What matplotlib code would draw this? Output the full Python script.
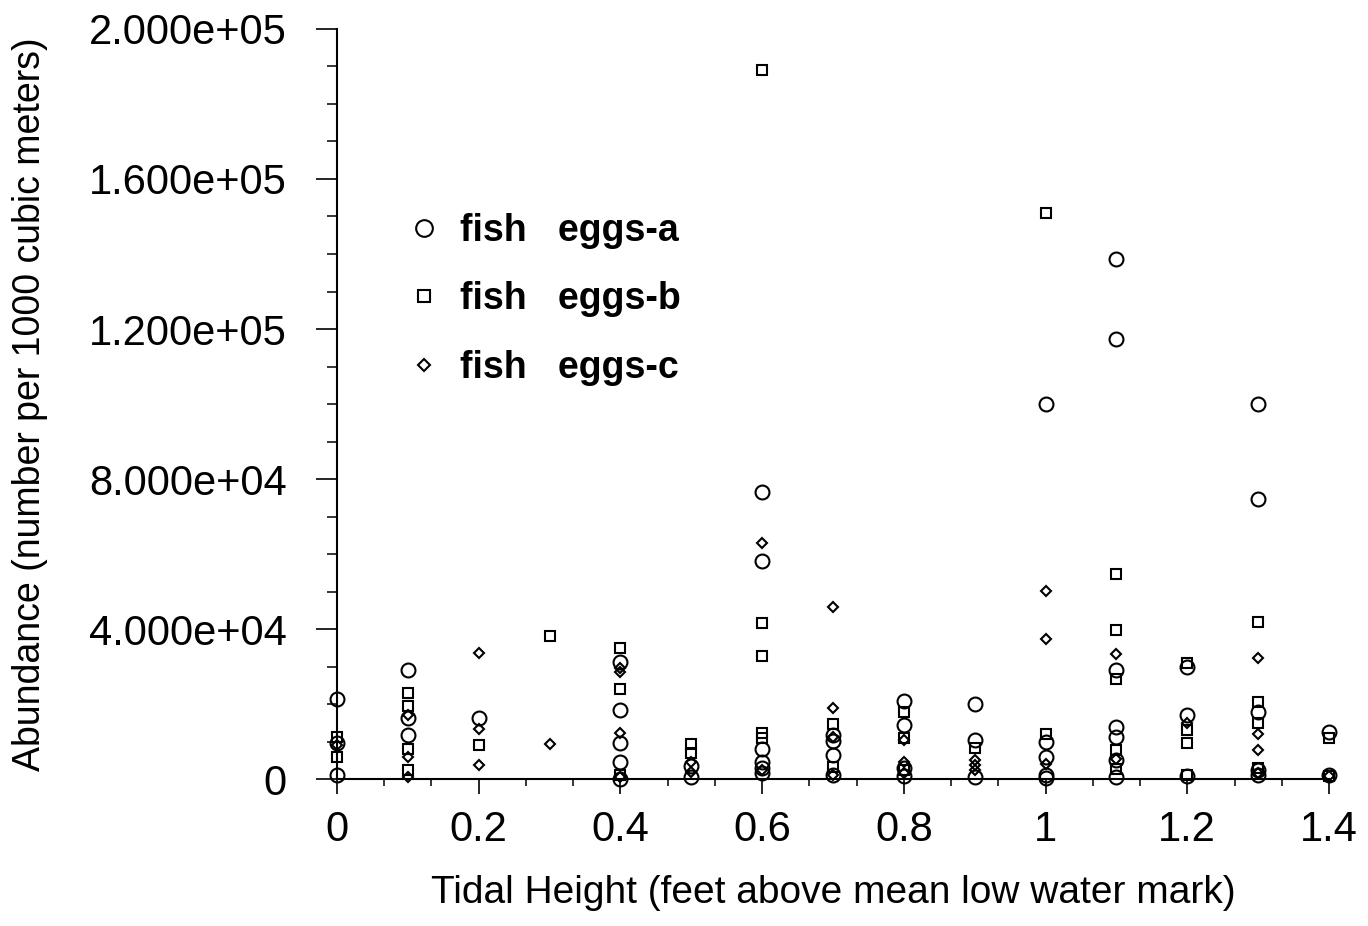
import numpy as np
import matplotlib
matplotlib.use('Agg')
import matplotlib.pyplot as plt
from matplotlib.ticker import FuncFormatter, MultipleLocator

plt.rcParams['font.family'] = ['Liberation Sans', 'DejaVu Sans']

# tidal heights and abundances
eggs_a_x = [0, 0, 0,
            0.1, 0.1, 0.1,
            0.2,
            0.4, 0.4, 0.4, 0.4, 0.4,
            0.5, 0.5,
            0.6, 0.6, 0.6, 0.6, 0.6, 0.6,
            0.7, 0.7, 0.7, 0.7,
            0.8, 0.8, 0.8, 0.8,
            0.9, 0.9, 0.9,
            1.0, 1.0, 1.0, 1.0, 1.0,
            1.1, 1.1, 1.1, 1.1, 1.1, 1.1, 1.1,
            1.2, 1.2, 1.2,
            1.3, 1.3, 1.3, 1.3, 1.3,
            1.4, 1.4]
eggs_a_y = [21300, 9600, 1000,
            29000, 16300, 11700,
            16300,
            31200, 18400, 9600, 4500, 0,
            3500, 500,
            76500, 58100, 8000, 4500, 2900, 1500,
            11700, 10100, 6400, 1000,
            20800, 14400, 3000, 800,
            20000, 10400, 500,
            100000, 9900, 5900, 1000, 300,
            138700, 117300, 29100, 13900, 11200, 5000, 500,
            29900, 17100, 800,
            100000, 74700, 17900, 2400, 1000,
            12500, 1000]

eggs_b_x = [0, 0,
            0.1, 0.1, 0.1, 0.1,
            0.2,
            0.3,
            0.4, 0.4, 0.4,
            0.5, 0.5,
            0.6, 0.6, 0.6, 0.6, 0.6,
            0.7, 0.7,
            0.8, 0.8, 0.8,
            0.9,
            1.0, 1.0,
            1.1, 1.1, 1.1, 1.1, 1.1,
            1.2, 1.2, 1.2, 1.2,
            1.3, 1.3, 1.3, 1.3,
            1.4, 1.4]
eggs_b_y = [11200, 5900,
            22900, 19500, 8000, 2400,
            9100,
            38100,
            34900, 24000, 1000,
            9300, 7000,
            189000, 41600, 32800, 12300, 11000,
            14700, 3200,
            17900, 10900, 2500,
            8300,
            150900, 12000,
            54700, 39700, 26700, 7700, 2700,
            31000, 13000, 9600, 1000,
            41900, 20500, 14900, 2900,
            10900, 800]

eggs_c_x = [0,
            0.1, 0.1, 0.1,
            0.2, 0.2, 0.2,
            0.3,
            0.4, 0.4, 0.4, 0.4,
            0.5, 0.5,
            0.6, 0.6,
            0.7, 0.7, 0.7, 0.7,
            0.8, 0.8, 0.8,
            0.9, 0.9, 0.9,
            1.0, 1.0, 1.0,
            1.1, 1.1,
            1.2,
            1.3, 1.3, 1.3, 1.3,
            1.4]
eggs_c_y = [9000,
            17000, 5900, 500,
            33600, 13300, 3700,
            9300,
            29500, 28500, 12300, 500,
            4500, 2000,
            62900, 2400,
            45900, 18900, 11200, 1000,
            10500, 4500, 1500,
            5000, 3700, 2400,
            50100, 37300, 4000,
            33300, 5300,
            14900,
            32300, 12000, 7700, 1500,
            800]

fig = plt.figure(figsize=(13.68, 9.26), dpi=100)
ax = fig.add_axes([0.2463, 0.1587, 0.7252, 0.81])

kw = dict(linestyle='none', markerfacecolor='none', markeredgecolor='black',
          markeredgewidth=1.5, clip_on=False)
ax.plot(eggs_a_x, eggs_a_y, marker='o', markersize=10, label='fish   eggs-a', **kw)
ax.plot(eggs_b_x, eggs_b_y, marker='s', markersize=7, label='fish   eggs-b', **kw)
ax.plot(eggs_c_x, eggs_c_y, marker='D', markersize=5, label='fish   eggs-c', **kw)

ax.set_xlim(0, 1.4)
ax.set_ylim(0, 200000)
ax.spines['top'].set_visible(False)
ax.spines['right'].set_visible(False)
ax.spines['left'].set_linewidth(1.5)
ax.spines['bottom'].set_linewidth(1.5)

ax.xaxis.set_major_locator(MultipleLocator(0.2))
ax.xaxis.set_minor_locator(MultipleLocator(0.2 / 3))
ax.yaxis.set_major_locator(MultipleLocator(40000))
ax.yaxis.set_minor_locator(MultipleLocator(10000))
ax.xaxis.set_major_formatter(FuncFormatter(lambda v, p: '%g' % round(v, 2)))
ax.yaxis.set_major_formatter(FuncFormatter(lambda v, p: '0' if v == 0 else '%.3e' % v))
ax.tick_params(axis='y', which='major', length=15, width=1.2, labelsize=30, pad=21)
ax.tick_params(axis='y', which='minor', length=7, width=1.1)
ax.tick_params(axis='x', which='major', length=11, width=1.2, labelsize=30, pad=11)
ax.tick_params(axis='x', which='minor', length=5, width=1.1)

ax.set_xlabel('Tidal Height (feet above mean low water mark)', fontsize=28, va='top')
ax.set_ylabel('Abundance (number per 1000 cubic meters)', fontsize=27)
ax.xaxis.set_label_coords(0.5, -0.128)
ax.yaxis.set_label_coords(-0.291, 0.5)

ax.legend(loc='upper left', bbox_to_anchor=(0.035, 0.80), frameon=False,
          prop={'weight': 'bold', 'size': 27}, labelspacing=0.87,
          handletextpad=0.46, handlelength=1.0, markerscale=1.2)

fig.savefig('out.png', dpi=100)
